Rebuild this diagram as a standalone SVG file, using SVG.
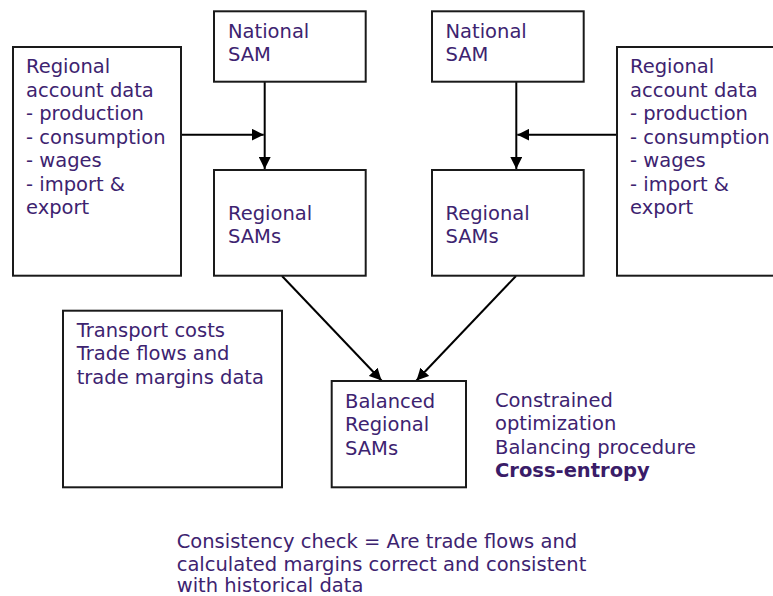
<svg xmlns="http://www.w3.org/2000/svg" width="773" height="596" viewBox="0 0 773 596">
<defs>
<style>
.box{fill:#fff;stroke:#1a1a1a;stroke-width:2}
.t{font-family:"DejaVu Sans",Verdana,sans-serif;font-size:19.5px;fill:#3d2370}
.b{font-weight:bold;fill:#3a1c68}
.c{stroke:#000;stroke-width:2;fill:none}
</style>
<marker id="ah" viewBox="0 0 10 10" refX="10" refY="5" markerWidth="6" markerHeight="6" markerUnits="strokeWidth" orient="auto">
<path d="M0,0 L10,5 L0,10 Z" fill="#000"/>
</marker>
</defs>
<rect width="773" height="596" fill="#fff"/>
<g id="connectors">
<line class="c" x1="264.7" y1="82" x2="264.7" y2="169" marker-end="url(#ah)"/>
<line class="c" x1="181" y1="134.7" x2="263.7" y2="134.7" marker-end="url(#ah)"/>
<line class="c" x1="516.3" y1="82" x2="516.3" y2="169" marker-end="url(#ah)"/>
<line class="c" x1="617" y1="134.7" x2="517.3" y2="134.7" marker-end="url(#ah)"/>
<line class="c" x1="282" y1="276" x2="381.5" y2="380.5" marker-end="url(#ah)"/>
<line class="c" x1="516" y1="276" x2="416.5" y2="380.5" marker-end="url(#ah)"/>
</g>
<g id="regional-data-left">
<rect class="box" x="13" y="47" width="168" height="228.7"/>
<text class="t"><tspan x="26" y="73">Regional</tspan><tspan x="26" y="96.5">account data</tspan><tspan x="26" y="120">- production</tspan><tspan x="26" y="143.5">- consumption</tspan><tspan x="26" y="167">- wages</tspan><tspan x="26" y="190.5">- import &amp;</tspan><tspan x="26" y="214">export</tspan></text>
</g>
<g id="national-sam-left">
<rect class="box" x="214" y="11.3" width="151.7" height="70.4"/>
<text class="t"><tspan x="228" y="38">National</tspan><tspan x="228" y="61.3">SAM</tspan></text>
</g>
<g id="regional-sams-left">
<rect class="box" x="214" y="170" width="151.7" height="105.7"/>
<text class="t"><tspan x="228" y="220">Regional</tspan><tspan x="228" y="243">SAMs</tspan></text>
</g>
<g id="national-sam-right">
<rect class="box" x="432" y="11.3" width="151.7" height="70.4"/>
<text class="t"><tspan x="445.5" y="38">National</tspan><tspan x="445.5" y="61.3">SAM</tspan></text>
</g>
<g id="regional-sams-right">
<rect class="box" x="432" y="170" width="151.7" height="105.7"/>
<text class="t"><tspan x="445.5" y="220">Regional</tspan><tspan x="445.5" y="243">SAMs</tspan></text>
</g>
<g id="regional-data-right">
<rect class="box" x="617" y="47" width="170" height="228.7"/>
<text class="t"><tspan x="630" y="73">Regional</tspan><tspan x="630" y="96.5">account data</tspan><tspan x="630" y="120">- production</tspan><tspan x="630" y="143.5">- consumption</tspan><tspan x="630" y="167">- wages</tspan><tspan x="630" y="190.5">- import &amp;</tspan><tspan x="630" y="214">export</tspan></text>
</g>
<g id="transport">
<rect class="box" x="63" y="310.7" width="219" height="176.6"/>
<text class="t"><tspan x="76.7" y="337">Transport costs</tspan><tspan x="76.7" y="360.3">Trade flows and</tspan><tspan x="76.7" y="383.7">trade margins data</tspan></text>
</g>
<g id="balanced">
<rect class="box" x="331.7" y="381" width="134.3" height="106.3"/>
<text class="t"><tspan x="345" y="408">Balanced</tspan><tspan x="345" y="431.3">Regional</tspan><tspan x="345" y="454.7">SAMs</tspan></text>
</g>
<g id="balancing-note">
<text class="t"><tspan x="495" y="407">Constrained</tspan><tspan x="495" y="430.3">optimization</tspan><tspan x="495" y="453.7">Balancing procedure</tspan><tspan x="495" y="477" class="b" font-weight="bold">Cross-entropy</tspan></text>
</g>
<g id="consistency-note">
<text class="t"><tspan x="176.7" y="547.5">Consistency check = Are trade flows and</tspan><tspan x="176.7" y="570.5">calculated margins correct and consistent</tspan><tspan x="176.7" y="591.5">with historical data</tspan></text>
</g>
</svg>
